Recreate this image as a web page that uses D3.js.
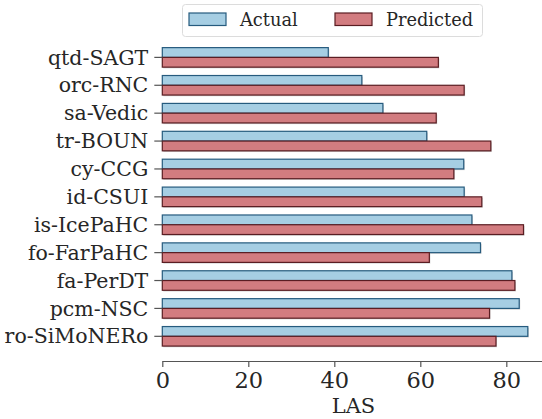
<!DOCTYPE html>
<html>
<head>
<meta charset="utf-8">
<script src="https://cdn.jsdelivr.net/npm/d3@7"></script>
<style>
  html, body { margin: 0; padding: 0; background: #fff; }
  svg text { font-family: "DejaVu Serif", serif; fill: #262626; }
</style>
</head>
<body>
<svg id="chart" width="542" height="419"></svg>
<script>
// Treebanks, ordered top to bottom
const treebanks = ["qtd-SAGT", "orc-RNC", "sa-Vedic", "tr-BOUN", "cy-CCG", "id-CSUI",
  "is-IcePaHC", "fo-FarPaHC", "fa-PerDT", "pcm-NSC", "ro-SiMoNERo"];
// LAS scores
const actualLAS    = [38.6, 46.4, 51.3, 61.5, 70.1, 70.2, 72.0, 74.0, 81.3, 83.0, 85.0];
const predictedLAS = [64.2, 70.2, 63.7, 76.4, 67.8, 74.3, 84.0, 62.1, 82.0, 76.1, 77.6];
const xTicks = [0, 20, 40, 60, 80];
const seriesNames = ["Actual", "Predicted"];

const colors = {
  Actual:    { fill: "#a6cee3", stroke: "#265b7e" },
  Predicted: { fill: "#d27c80", stroke: "#5a1d22" }
};

const svg = d3.select("#chart");
const plotL = 162.3, plotR = 542, plotT = 32.7, plotB = 361;

const x = d3.scaleLinear().domain([0, 88.3]).range([plotL, plotR]);
// Numeric y scale over category index, with bar half-height padding
const barH = 0.35;
const y = d3.scaleLinear().domain([-0.885, treebanks.length - 1 + 0.885]).range([plotT, plotB]);

const rows = treebanks.map((t, i) => ({ t, i, Actual: actualLAS[i], Predicted: predictedLAS[i] }));

// Bars: Actual above the category line, Predicted below
const g = svg.append("g");
seriesNames.forEach((s, k) => {
  const y0 = d => y(d.i - barH + k * barH);
  const h = y(barH) - y(0);
  // soft shadow
  g.selectAll(".sh" + k).data(rows).join("rect")
    .attr("x", x(0) + 1).attr("y", d => y0(d) + 1.2)
    .attr("width", d => x(d[s]) - x(0)).attr("height", h)
    .attr("fill", "#000").attr("opacity", 0.18);
  g.selectAll(".b" + k).data(rows).join("rect")
    .attr("x", x(0)).attr("y", y0)
    .attr("width", d => x(d[s]) - x(0)).attr("height", h)
    .attr("fill", colors[s].fill)
    .attr("stroke", colors[s].stroke).attr("stroke-width", 1.2);
});

// Y axis: tick marks and labels, no spine
const yAxis = svg.append("g");
rows.forEach(d => {
  yAxis.append("line").attr("x1", plotL - 8).attr("x2", plotL).attr("y1", y(d.i)).attr("y2", y(d.i))
    .attr("stroke", "#555").attr("stroke-width", 1.2);
  yAxis.append("text").attr("x", plotL - 14).attr("y", y(d.i)).attr("dy", "0.35em")
    .attr("text-anchor", "end").attr("font-size", 20.5).text(d.t);
});

// X axis
const xAxis = svg.append("g").attr("transform", `translate(0,${plotB})`)
  .call(d3.axisBottom(x).tickValues(xTicks).tickSize(6).tickPadding(4).tickSizeOuter(0));
xAxis.select(".domain").attr("stroke", "#555").attr("stroke-width", 1.2);
xAxis.selectAll(".tick line").attr("stroke", "#555").attr("stroke-width", 1.2);
xAxis.selectAll(".tick text").attr("font-size", 22.5).attr("font-family", "DejaVu Serif").attr("fill", "#262626")
  .attr("dy", null).attr("y", 26.5);

svg.append("text").attr("x", 353.5).attr("y", 413)
  .attr("text-anchor", "middle").attr("font-size", 21).text("LAS");

// Legend
const lg = svg.append("g");
lg.append("rect").attr("x", 182.5).attr("y", 4.5).attr("width", 300).attr("height", 32)
  .attr("rx", 3).attr("fill", "#fff").attr("stroke", "#dcdcdc").attr("stroke-width", 1);
const legendPos = [{ px: 189, tx: 240 }, { px: 335, tx: 386 }];
seriesNames.forEach((s, k) => {
  lg.append("rect").attr("x", legendPos[k].px).attr("y", 13).attr("width", 37).attr("height", 12.5)
    .attr("fill", colors[s].fill).attr("stroke", colors[s].stroke).attr("stroke-width", 1.2);
  lg.append("text").attr("x", legendPos[k].tx).attr("y", 19.5).attr("dy", "0.35em")
    .attr("font-size", 17.8).text(s);
});
</script>
</body>
</html>
